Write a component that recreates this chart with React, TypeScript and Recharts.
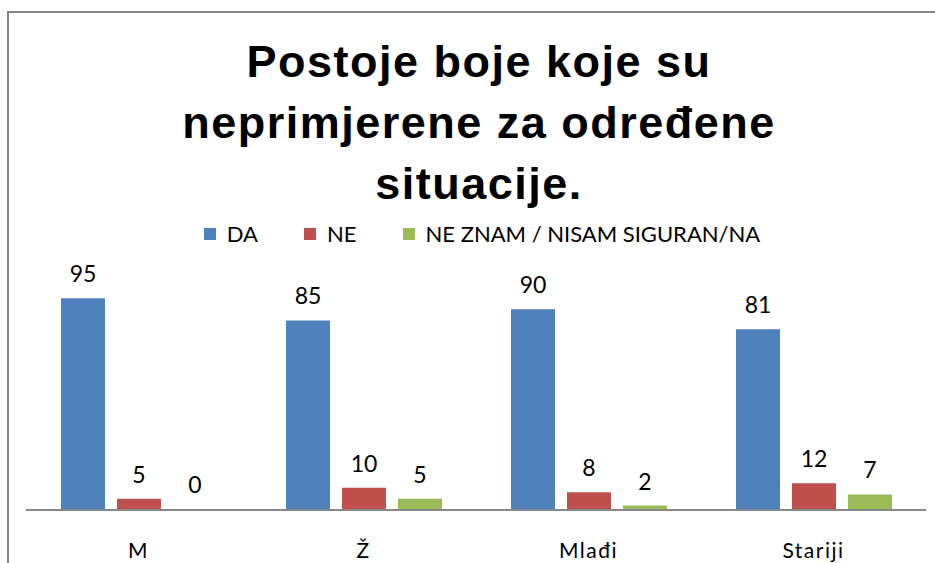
import React from 'react';
import { BarChart, Bar, XAxis, YAxis, Legend, LabelList, Rectangle } from 'recharts';

const categories = ['M', 'Ž', 'Mlađi', 'Stariji'];
const daValues = [95, 85, 90, 81];
const neValues = [5, 10, 8, 12];
const nzValues = [0, 5, 2, 7];

const seriesNames = ['DA', 'NE', 'NE ZNAM / NISAM SIGURAN/NA'];
const seriesColors = ['#4F81BD', '#C0504D', '#9BBB59'];
const seriesKeys = ['da', 'ne', 'nz'];
const titleLines = ['Postoje boje koje su', 'neprimjerene za određene', 'situacije.'];

const data = categories.map((c, i) => ({
  name: c,
  da: daValues[i],
  ne: neValues[i],
  nz: nzValues[i],
}));

const FONT = 'Lato, "Open Sans", sans-serif';

const CatTick = ({ x, y, payload }: any) => (
  <text x={x} y={y + 40} textAnchor="middle" fill="#000" fontSize={21} fontFamily={FONT} letterSpacing={1.5}>
    {payload.value}
  </text>
);

// value labels drawn above each bar, zero included
const ValueLabel = ({ x, y, width, value }: any) => (
  <text x={x + width / 2} y={y - 16} textAnchor="middle" fill="#000" fontSize={23} fontFamily={FONT}>
    {String(value)}
  </text>
);

// minPointSize keeps zero values in the label list; don't paint them
const makeShape = (key: string) => (props: any) =>
  props.payload && props.payload[key] === 0 ? <g /> : <Rectangle {...props} />;

const renderLegend = () => (
  <div
    style={{
      display: 'flex',
      justifyContent: 'center',
      alignItems: 'center',
      paddingLeft: 29,
      fontFamily: FONT,
      fontSize: 22,
      lineHeight: '22px',
      color: '#000',
    }}
  >
    {seriesNames.map((name, i) => (
      <div key={name} style={{ display: 'flex', alignItems: 'center', marginRight: i < seriesNames.length - 1 ? 46 : 0 }}>
        <span style={{ display: 'inline-block', width: 12, height: 12, background: seriesColors[i], marginRight: 11 }} />
        <span>{name}</span>
      </div>
    ))}
  </div>
);

export default function App() {
  return (
    <div style={{ position: 'absolute', left: 0, top: 0, width: 935, height: 563, overflow: 'hidden', background: '#fff' }}>
      {/* chart frame, cut off on the right and bottom */}
      <div
        style={{
          position: 'absolute',
          left: 7,
          top: 11,
          width: 1200,
          height: 800,
          borderLeft: '2px solid #868686',
          borderTop: '2px solid #868686',
        }}
      />
      <svg width={935} height={220} style={{ position: 'absolute', left: 0, top: 0 }}>
        {titleLines.map((line, i) => (
          <text
            key={line}
            x={479}
            y={77 + i * 61}
            textAnchor="middle"
            fontFamily='"Liberation Sans", Arial, sans-serif'
            fontWeight="bold"
            fontSize={45}
            letterSpacing={1.5}
            fill="#000"
          >
            {line}
          </text>
        ))}
      </svg>
      <div style={{ position: 'absolute', left: 0, top: 0 }}>
        <BarChart
          width={935}
          height={563}
          data={data}
          margin={{ top: 287, right: 9, left: 26, bottom: 13 }}
          barSize={44}
          barGap={12}
        >
          <XAxis
            dataKey="name"
            height={40}
            tickLine={false}
            tickSize={6}
            tickMargin={2}
            axisLine={{ stroke: '#888888', strokeWidth: 2 }}
            tick={<CatTick />}
            interval={0}
          />
          <YAxis hide domain={[0, 100]} />
          <Legend
            content={renderLegend}
            verticalAlign="middle"
            layout="horizontal"
            wrapperStyle={{ top: 223, left: 0, width: 935 }}
          />
          {seriesKeys.map((key, i) => (
            <Bar
              key={key}
              dataKey={key}
              name={seriesNames[i]}
              fill={seriesColors[i]}
              minPointSize={1}
              shape={makeShape(key)}
              isAnimationActive={false}
            >
              <LabelList dataKey={key} content={<ValueLabel />} />
            </Bar>
          ))}
        </BarChart>
      </div>
    </div>
  );
}
